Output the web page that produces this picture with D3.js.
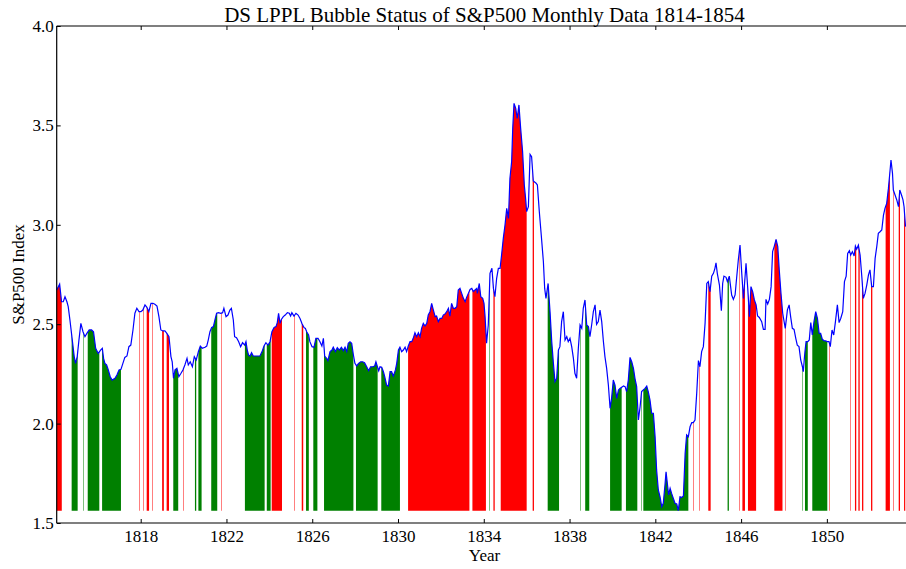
<!DOCTYPE html>
<html><head><meta charset="utf-8">
<script src="https://cdn.jsdelivr.net/npm/d3@7/dist/d3.min.js"></script>
<style>
body{margin:0;background:#fff}
svg{display:block}
text{font-family:"Liberation Serif","Times New Roman",serif;fill:#000}
</style>
</head><body>
<svg id="chart" width="906" height="569"></svg>
<script>
// ---- data ----
const years = [
1814.083,1814.22,1814.31,1814.39,1814.47,1814.56,1814.62,1814.70,1814.81,1814.90,1814.96,1815.04,1815.12,1815.21,1815.31,1815.40,1815.49,1815.60,1815.71,1815.80,1815.90,1816.02,1816.13,1816.21,1816.27,1816.33,1816.41,1816.49,1816.58,1816.67,1816.80,1816.89,1816.99,1817.08,1817.17,1817.26,1817.36,1817.45,1817.54,1817.64,1817.73,1817.82,1817.92,1818.01,1818.10,1818.20,1818.29,1818.38,1818.48,1818.57,1818.66,1818.76,1818.85,1818.94,1819.04,1819.13,1819.22,1819.32,1819.41,1819.47,1819.53,1819.60,1819.69,1819.78,1819.88,1819.97,1820.06,1820.16,1820.22,1820.31,1820.41,1820.50,1820.59,1820.69,1820.78,1820.87,
1821.00,1821.08,1821.15,1821.23,1821.31,1821.39,1821.46,1821.54,1821.63,1821.73,1821.82,1821.88,1821.98,1822.07,1822.16,1822.23,1822.32,1822.38,1822.47,1822.57,1822.66,1822.75,1822.85,1822.91,1822.97,1823.03,1823.10,1823.17,1823.25,1823.41,1823.56,1823.66,1823.75,1823.84,1823.94,1824.03,1824.12,1824.22,1824.31,1824.37,1824.43,1824.50,1824.56,1824.65,1824.74,1824.84,1824.93,1824.99,1825.05,1825.15,1825.24,1825.34,1825.43,1825.52,1825.61,1825.68,1825.74,1825.83,1825.89,1825.99,1826.08,1826.17,1826.27,1826.36,1826.45,1826.52,1826.58,1826.67,1826.73,1826.83,1826.92,1826.98,1827.08,1827.17,1827.26,1827.36,1827.45,1827.53,
1827.61,1827.68,1827.76,1827.84,1827.92,1827.99,1828.07,1828.16,1828.26,1828.35,1828.44,1828.54,1828.63,1828.72,1828.82,1828.91,1828.97,1829.04,1829.10,1829.16,1829.24,1829.32,1829.38,1829.47,1829.55,1829.63,1829.70,1829.78,1829.88,1829.94,1830.02,1830.09,1830.17,1830.25,1830.33,1830.40,1830.48,1830.56,1830.64,1830.71,1830.79,1830.87,1830.95,1831.03,1831.10,1831.18,1831.26,1831.34,1831.41,1831.49,1831.57,1831.65,1831.73,1831.80,1831.88,1831.96,1832.04,1832.11,1832.19,1832.27,1832.35,1832.42,1832.50,1832.58,1832.66,1832.74,1832.81,1832.89,1832.97,1833.05,1833.13,1833.20,1833.28,1833.36,1833.44,1833.51,1833.59,1833.67,1833.70,1833.79,1833.86,1833.95,1834.01,1834.06,
1834.13,1834.21,1834.29,1834.38,1834.45,1834.52,1834.60,1834.68,1834.76,1834.83,1834.91,1834.99,1835.07,1835.15,1835.22,1835.30,1835.35,1835.41,1835.49,1835.56,1835.64,1835.72,1835.81,1835.89,1835.95,1836.00,1836.08,1836.16,1836.23,1836.31,1836.44,1836.50,1836.59,1836.68,1836.78,1836.84,1836.90,1837.00,1837.09,1837.17,1837.24,1837.32,1837.40,1837.48,1837.55,1837.63,1837.71,1837.79,1837.87,1837.94,1838.02,1838.10,1838.18,1838.25,1838.33,1838.41,1838.49,1838.57,1838.64,1838.72,1838.80,1838.88,1838.95,1839.03,1839.11,1839.19,1839.26,1839.34,1839.42,1839.50,1839.58,1839.65,1839.73,1839.81,1839.89,1839.96,1840.04,1840.12,1840.20,1840.28,1840.35,1840.48,
1840.51,1840.59,1840.66,1840.74,1840.82,1840.90,1840.98,1841.05,1841.13,1841.21,1841.29,1841.36,1841.44,1841.52,1841.60,1841.67,1841.75,1841.83,1841.91,1841.99,1842.06,1842.14,1842.22,1842.30,1842.37,1842.45,1842.50,1842.56,1842.62,1842.69,1842.76,1842.84,1842.92,1843.00,1843.07,1843.15,1843.23,1843.31,1843.39,1843.46,1843.54,1843.62,1843.70,1843.77,1843.85,1843.93,1844.01,1844.08,1844.16,1844.24,1844.32,1844.40,1844.47,1844.55,1844.63,1844.71,1844.78,1844.83,1844.89,1844.99,1845.08,1845.14,1845.20,1845.30,1845.36,1845.45,1845.56,1845.64,1845.72,1845.79,1845.87,1845.95,1846.03,1846.11,1846.18,1846.23,1846.31,1846.39,1846.46,1846.54,1846.62,1846.70,1846.77,1846.85,
1846.96,1847.04,1847.12,1847.16,1847.24,1847.32,1847.40,1847.47,1847.55,1847.63,1847.71,1847.78,1847.86,1847.94,1848.02,1848.06,1848.16,1848.24,1848.31,1848.39,1848.47,1848.55,1848.62,1848.70,1848.78,1848.86,1848.90,1848.97,1849.03,1849.11,1849.18,1849.25,1849.32,1849.40,1849.48,1849.56,1849.64,1849.71,1849.79,1849.87,1849.95,1850.02,1850.10,1850.16,1850.24,1850.32,1850.40,1850.49,1850.57,1850.65,1850.74,1850.82,1850.90,1850.97,1851.05,1851.11,1851.19,1851.27,1851.33,1851.39,1851.47,1851.55,1851.63,1851.70,1851.78,1851.86,1851.94,1852.01,1852.09,1852.17,1852.25,1852.33,1852.40,1852.48,1852.56,1852.64,1852.71,1852.79,1852.87,1852.92,1852.99,1853.06,1853.10,1853.18,1853.26,1853.34,1853.40,1853.48,1853.55,1853.60,1853.667
];
const prices = [
2.672,2.702,2.613,2.613,2.638,2.613,2.588,2.521,2.420,2.337,2.303,2.337,2.420,2.504,2.462,2.437,2.454,2.471,2.471,2.462,2.379,2.353,2.370,2.379,2.328,2.303,2.295,2.270,2.236,2.219,2.228,2.244,2.270,2.273,2.303,2.333,2.340,2.387,2.395,2.471,2.555,2.580,2.563,2.563,2.571,2.597,2.585,2.563,2.605,2.605,2.600,2.591,2.538,2.471,2.466,2.466,2.454,2.437,2.337,2.311,2.228,2.270,2.278,2.236,2.253,2.270,2.295,2.328,2.295,2.311,2.286,2.337,2.320,2.362,2.390,2.379,
2.384,2.390,2.420,2.462,2.484,2.488,2.521,2.555,2.558,2.555,2.558,2.580,2.538,2.546,2.571,2.580,2.521,2.437,2.432,2.412,2.387,2.407,2.395,2.412,2.370,2.345,2.340,2.357,2.340,2.340,2.340,2.362,2.390,2.407,2.395,2.412,2.462,2.484,2.488,2.508,2.555,2.504,2.524,2.538,2.546,2.558,2.555,2.541,2.558,2.541,2.555,2.546,2.529,2.504,2.484,2.479,2.462,2.446,2.412,2.387,2.384,2.429,2.429,2.412,2.390,2.429,2.340,2.328,2.317,2.362,2.370,2.384,2.362,2.382,2.370,2.384,2.367,2.384,
2.362,2.404,2.412,2.404,2.345,2.303,2.290,2.303,2.311,2.311,2.306,2.286,2.266,2.286,2.286,2.290,2.311,2.286,2.266,2.286,2.283,2.261,2.236,2.194,2.189,2.261,2.261,2.239,2.270,2.303,2.370,2.384,2.362,2.370,2.384,2.362,2.390,2.412,2.412,2.429,2.457,2.437,2.457,2.437,2.479,2.504,2.491,2.504,2.546,2.563,2.605,2.571,2.538,2.541,2.513,2.529,2.529,2.546,2.551,2.563,2.580,2.541,2.605,2.580,2.580,2.588,2.672,2.680,2.655,2.630,2.613,2.635,2.655,2.675,2.680,2.664,2.672,2.680,2.655,2.705,2.638,2.630,2.605,2.538,
2.404,2.496,2.756,2.781,2.680,2.638,2.731,2.781,2.781,2.848,2.932,2.999,3.083,3.032,3.234,3.318,3.485,3.611,3.586,3.535,3.603,3.485,3.368,3.200,3.133,3.066,3.091,3.354,3.343,3.220,3.209,3.200,3.066,2.949,2.814,2.680,2.630,2.705,2.563,2.412,2.312,2.211,2.228,2.370,2.387,2.513,2.563,2.420,2.437,2.412,2.429,2.387,2.328,2.253,2.228,2.379,2.496,2.479,2.580,2.622,2.496,2.488,2.437,2.496,2.563,2.597,2.499,2.513,2.571,2.513,2.412,2.337,2.278,2.194,2.077,2.127,2.219,2.194,2.127,2.169,2.177,2.186,
2.189,2.186,2.161,2.219,2.333,2.311,2.278,2.228,2.186,2.018,2.085,2.161,2.169,2.177,2.189,2.161,2.119,2.052,2.052,1.934,1.767,1.666,1.632,1.582,1.599,1.691,1.758,1.700,1.641,1.674,1.649,1.624,1.599,1.596,1.562,1.632,1.629,1.636,1.850,1.943,1.934,1.984,2.005,2.005,2.018,2.152,2.317,2.286,2.362,2.387,2.504,2.705,2.714,2.664,2.742,2.756,2.781,2.809,2.756,2.697,2.568,2.705,2.742,2.736,2.714,2.742,2.647,2.625,2.647,2.731,2.823,2.898,2.756,2.630,2.731,2.806,2.680,2.538,2.689,2.664,2.622,2.597,2.541,2.534,
2.513,2.474,2.474,2.625,2.602,2.625,2.689,2.865,2.893,2.927,2.890,2.773,2.655,2.555,2.504,2.479,2.572,2.597,2.538,2.479,2.474,2.429,2.395,2.387,2.320,2.286,2.261,2.354,2.412,2.412,2.421,2.508,2.446,2.513,2.563,2.530,2.454,2.454,2.424,2.417,2.416,2.412,2.412,2.387,2.471,2.446,2.513,2.597,2.508,2.530,2.563,2.714,2.742,2.856,2.870,2.848,2.865,2.843,2.893,2.877,2.898,2.848,2.739,2.630,2.655,2.697,2.748,2.773,2.689,2.689,2.831,2.893,2.957,2.965,2.974,3.049,3.083,3.108,3.183,3.242,3.326,3.259,3.175,3.150,3.125,3.091,3.175,3.150,3.125,3.091,2.991
];
// bubble status periods (decimal years): positive (red) and negative (green)
const redStart = [1814.083,1817.94,1818.12,1818.28,1818.54,1819.00,1819.21,1819.97,1821.73,1824.11,1825.15,1825.51,1830.47,1833.47,1834.45,1834.79,1836.28,1843.74,1844.05,1844.47,1845.92,1846.06,1846.32,1847.55,1848.07,1850.08,1851.08,1851.31,1851.47,1851.64,1852.06,1852.74,1853.10,1853.35,1853.60];
const redEnd   = [1814.32, 1817.94,1818.12,1818.39,1818.54,1819.08,1819.32,1819.97,1821.73,1824.59,1825.15,1825.58,1833.33,1834.10,1834.51,1836.00,1836.34,1843.74,1844.05,1844.58,1845.92,1846.18,1846.70,1847.93,1848.07,1850.08,1851.08,1851.37,1851.53,1851.70,1852.12,1852.94,1853.10,1853.41,1853.667];
const greenStart = [1814.78,1815.30,1815.53,1816.20,1819.52,1820.53,1820.69,1821.29,1822.86,1823.88,1825.71,1826.05,1826.55,1828.04,1829.22,1834.24,1836.98,1838.49,1838.73,1839.89,1840.63,1841.33,1841.44,1845.37,1848.82,1848.98,1849.32];
const greenEnd   = [1815.06,1815.30,1816.07,1817.08,1819.75,1820.59,1820.84,1821.57,1823.78,1824.06,1825.84,1826.24,1827.92,1829.05,1830.09,1834.24,1837.51,1838.49,1838.92,1840.43,1841.16,1841.33,1843.54,1845.43,1848.82,1849.11,1850.02];
const xTicks = [1818,1822,1826,1830,1834,1838,1842,1846,1850];
const yTicks = [1.5,2.0,2.5,3.0,3.5,4.0];
const titleText = "DS LPPL Bubble Status of S&P500 Monthly Data 1814-1854";
const xLabel = "Year", yLabel = "S&P500 Index";

// ---- drawing ----
const svg = d3.select("#chart");
svg.append("rect").attr("width",906).attr("height",569).attr("fill","#fff");
const L = 56.7, R = 905.5, T = 26, B = 523;
const n = Math.min(years.length, prices.length);
const data = d3.range(n).map(i => [years[i], prices[i]]);
const x = d3.scaleLinear().domain([years[0], years[n-1]]).range([L, R]);
const y = d3.scaleLinear().domain([1.5, 4.0]).range([B, T]);
const base = d3.min(prices.slice(0,n));

svg.append("clipPath").attr("id","under").append("path")
  .attr("d", d3.area().x(d=>x(d[0])).y0(y(base)).y1(d=>y(d[1]))(data));

const fills = svg.append("g").attr("clip-path","url(#under)");
function drawRuns(starts, ends, color){
  starts.forEach((s,i)=>{
    const e = ends[i];
    if (e - s < 1e-6) {
      const px = Math.round(x(s)) + 0.5;
      fills.append("line").attr("x1",px).attr("x2",px).attr("y1",T).attr("y2",B)
        .attr("stroke",color).attr("stroke-width",1).attr("stroke-opacity",0.5);
    } else {
      fills.append("rect").attr("x",x(s)).attr("width",Math.max(1,x(e)-x(s)))
        .attr("y",T).attr("height",B-T).attr("fill",color);
    }
  });
}
drawRuns(greenStart, greenEnd, "#008000");
drawRuns(redStart, redEnd, "#ff0000");

svg.append("path").datum(data)
  .attr("d", d3.line().x(d=>x(d[0])).y(d=>y(d[1])))
  .attr("fill","none").attr("stroke","#0000ff").attr("stroke-width",1.2);

// axes
const fs = 17;
const xb = svg.append("g").attr("transform",`translate(0,${B})`)
  .call(d3.axisBottom(x).tickValues(xTicks).tickFormat(d3.format("d")).tickSize(-4).tickPadding(6.5));
const xt = svg.append("g").attr("transform",`translate(0,${T})`)
  .call(d3.axisTop(x).tickValues(xTicks).tickFormat("").tickSize(-4));
const yl = svg.append("g").attr("transform",`translate(${L},0)`)
  .call(d3.axisLeft(y).tickValues(yTicks).tickFormat(d3.format(".1f")).tickSize(-4).tickPadding(3));
[xb,xt,yl].forEach(g=>{
  g.select(".domain").remove();
  g.selectAll(".tick line").attr("stroke","#000");
  g.selectAll("text").attr("font-family",'"Liberation Serif","Times New Roman",serif').attr("font-size",fs).attr("fill","#000");
});
// frame
svg.append("line").attr("x1",L).attr("x2",L).attr("y1",T).attr("y2",B).attr("stroke","#000").attr("stroke-width",1.2);
svg.append("line").attr("x1",L).attr("x2",906).attr("y1",T).attr("y2",T).attr("stroke","#000").attr("stroke-width",1.2);
svg.append("line").attr("x1",L).attr("x2",906).attr("y1",B).attr("y2",B).attr("stroke","#000").attr("stroke-width",1.2);

// texts
svg.append("text").attr("x",484.5).attr("y",21.5).attr("text-anchor","middle")
  .attr("font-size",21).text(titleText);
svg.append("text").attr("x",484.5).attr("y",560.5).attr("text-anchor","middle")
  .attr("font-size",fs).text(xLabel);
svg.append("text").attr("transform",`translate(24,${(T+B)/2}) rotate(-90)`).attr("text-anchor","middle")
  .attr("font-size",fs).text(yLabel);
</script>
</body></html>
